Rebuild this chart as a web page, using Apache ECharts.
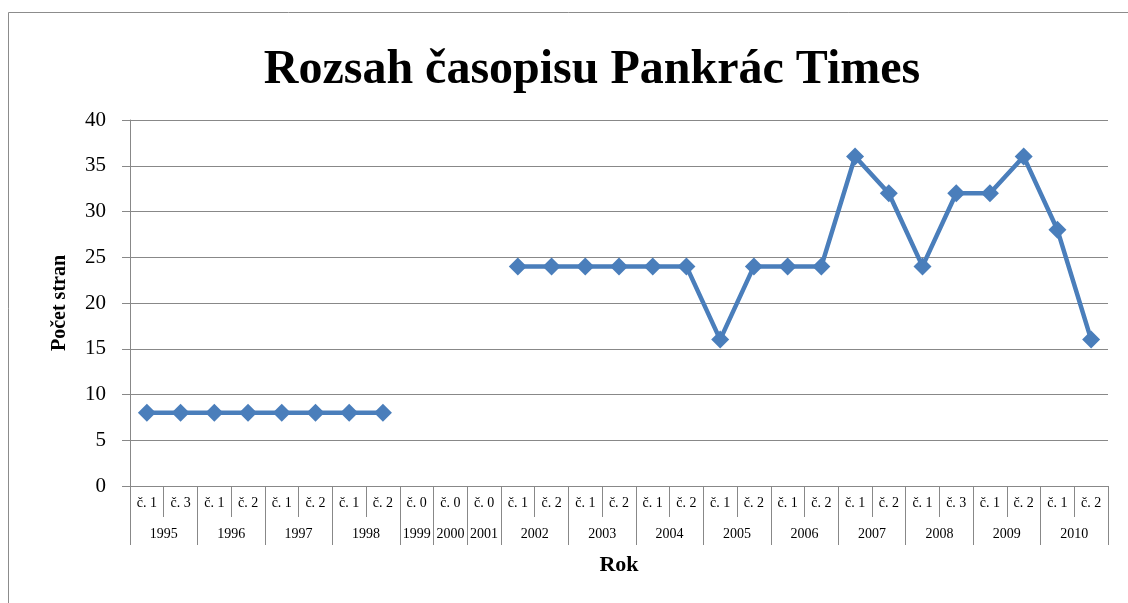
<!DOCTYPE html>
<html>
<head>
<meta charset="utf-8">
<script src="https://cdn.jsdelivr.net/npm/echarts@6/dist/echarts.min.js"></script>
<style>
  html, body { margin: 0; padding: 0; background: #fff; }
  #main { width: 1128px; height: 603px; }
</style>
</head>
<body>
<div id="main"></div>
<script>
// čísla časopisu (spodní řádek osy)
const issues = [
  'č. 1', 'č. 3', 'č. 1', 'č. 2', 'č. 1', 'č. 2', 'č. 1', 'č. 2',
  'č. 0', 'č. 0', 'č. 0',
  'č. 1', 'č. 2', 'č. 1', 'č. 2', 'č. 1', 'č. 2', 'č. 1', 'č. 2',
  'č. 1', 'č. 2', 'č. 1', 'č. 2', 'č. 1', 'č. 3', 'č. 1', 'č. 2', 'č. 1', 'č. 2'
];
// roky a kolik čísel pod každý spadá
const years = ['1995', '1996', '1997', '1998', '1999', '2000', '2001', '2002',
  '2003', '2004', '2005', '2006', '2007', '2008', '2009', '2010'];
const yearCounts = [2, 2, 2, 2, 1, 1, 1, 2, 2, 2, 2, 2, 2, 2, 2, 2];
// počet stran
const pages = [
  8, 8, 8, 8, 8, 8, 8, 8,
  null, null, null,
  24, 24, 24, 24, 24, 24, 16, 24, 24, 24,
  36, 32, 24, 32, 32, 36, 28, 16
];

// druhá osa: 2*N+1 bodů (hranice a středy kategorií)
const n = issues.length;
const yearSlots = new Array(2 * n + 1).fill('');
const boundary = new Array(2 * n + 1).fill(false);
let pos = 0;
boundary[0] = true;
years.forEach((y, i) => {
  const c = yearCounts[i];
  yearSlots[2 * pos + c] = y;
  pos += c;
  boundary[2 * pos] = true;
});

const grey = '#888888';
const serif = '"Liberation Serif", "Times New Roman", serif';

const chart = echarts.init(document.getElementById('main'));
chart.setOption({
  backgroundColor: '#fff',
  textStyle: { fontFamily: serif },
  title: {
    text: 'Rozsah časopisu Pankrác Times',
    left: 587,
    top: 42,
    textAlign: 'center',
    textStyle: { fontFamily: serif, fontSize: 48, fontWeight: 'bold', color: '#000' }
  },
  graphic: [{
    type: 'rect',
    shape: { x: 8.5, y: 12.5, width: 1125, height: 600 },
    style: { fill: 'none', stroke: '#8c8c8c', lineWidth: 1 },
    z: -1
  }],
  grid: { left: 130, right: 20, top: 120, bottom: 117 },
  xAxis: [{
    type: 'category',
    data: issues,
    boundaryGap: true,
    name: 'Rok',
    nameLocation: 'middle',
    nameGap: 68,
    nameTextStyle: { fontFamily: serif, fontSize: 22, fontWeight: 'bold', color: '#000' },
    axisLine: { lineStyle: { color: grey, width: 1 } },
    axisTick: { show: true, interval: 0, length: 31, lineStyle: { color: grey } },
    axisLabel: { interval: 0, margin: 10, fontFamily: serif, fontSize: 14, color: '#000' }
  }, {
    type: 'category',
    data: yearSlots,
    boundaryGap: false,
    position: 'bottom',
    axisLine: { show: false },
    axisTick: {
      show: true,
      length: 59,
      interval: (i) => boundary[i],
      lineStyle: { color: grey }
    },
    axisLabel: { interval: 0, margin: 41, fontFamily: serif, fontSize: 14, color: '#000' },
    splitLine: { show: false }
  }],
  yAxis: {
    type: 'value',
    min: 0,
    max: 40,
    interval: 5,
    name: 'Počet stran',
    nameLocation: 'middle',
    nameGap: 60,
    nameTextStyle: { fontFamily: serif, fontSize: 20, fontWeight: 'bold', color: '#000' },
    axisLine: { show: true, lineStyle: { color: grey } },
    axisTick: { show: true, length: 8, lineStyle: { color: grey } },
    axisLabel: { margin: 24, fontFamily: serif, fontSize: 21, color: '#000' },
    splitLine: { lineStyle: { color: grey, width: 1 } }
  },
  series: [{
    type: 'line',
    data: pages,
    xAxisIndex: 0,
    connectNulls: false,
    symbol: 'diamond',
    symbolSize: 18,
    lineStyle: { color: '#4a7ebb', width: 4.5 },
    itemStyle: { color: '#4a7ebb' }
  }],
  animation: false
});
</script>
</body>
</html>
